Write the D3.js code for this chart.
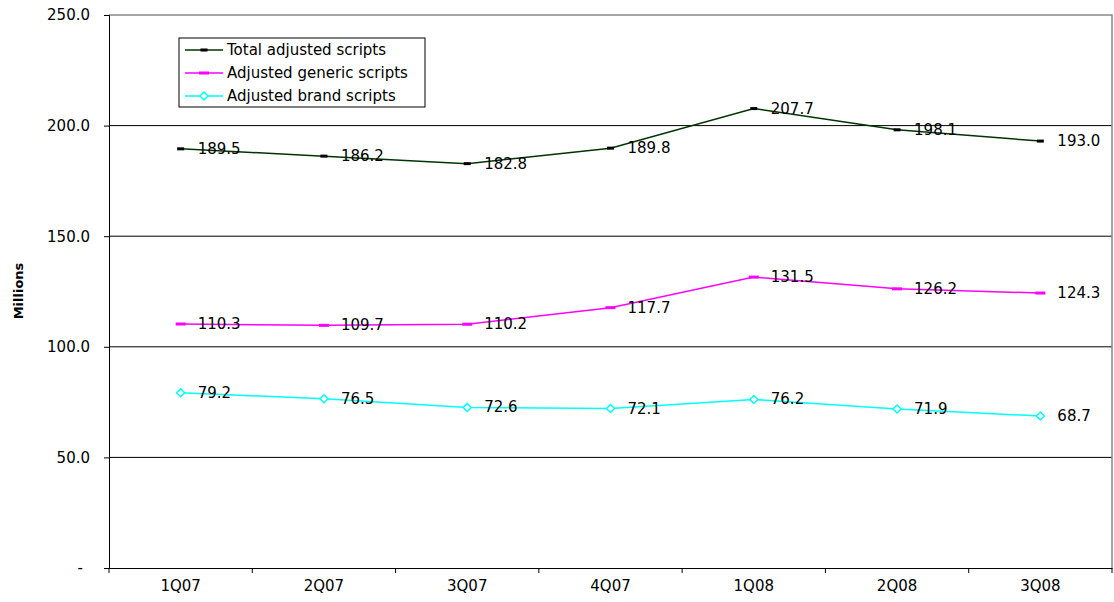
<!DOCTYPE html>
<html>
<head>
<meta charset="utf-8">
<script src="https://cdn.jsdelivr.net/npm/d3@7"></script>
<style>
  body { margin: 0; background: #fff; }
  text { font-family: "DejaVu Sans", Arial, sans-serif; }
</style>
</head>
<body>
<svg id="chart" width="1114" height="602"></svg>
<script>
// data
var quarters = ["1Q07", "2Q07", "3Q07", "4Q07", "1Q08", "2Q08", "3Q08"];
var totalScripts = [189.5, 186.2, 182.8, 189.8, 207.7, 198.1, 193.0];
var genericScripts = [110.3, 109.7, 110.2, 117.7, 131.5, 126.2, 124.3];
var brandScripts = [79.2, 76.5, 72.6, 72.1, 76.2, 71.9, 68.7];
var yTicks = [0, 50, 100, 150, 200, 250];

var series = [
  {name: "Total adjusted scripts", values: totalScripts, color: "#003300", marker: "dash"},
  {name: "Adjusted generic scripts", values: genericScripts, color: "#ff00ff", marker: "bar"},
  {name: "Adjusted brand scripts", values: brandScripts, color: "#00ffff", marker: "diamond"}
];

var svg = d3.select("#chart");
// plot edges (note: "top" is taken by window.top)
var plotLeft = 109, plotRight = 1112, plotTop = 15, plotBottom = 568;

var x = d3.scaleBand().domain(quarters).range([plotLeft, plotRight]);
var y = d3.scaleLinear().domain([0, 250]).range([plotBottom, plotTop]);

// gridlines
svg.append("g").selectAll("line")
  .data(yTicks.filter(function(d){ return d > 0 && d < 250; }))
  .enter().append("line")
  .attr("x1", plotLeft).attr("x2", plotRight)
  .attr("y1", function(d){ return y(d); }).attr("y2", function(d){ return y(d); })
  .style("stroke", "#000").style("stroke-width", 1);

// top/right border in grey
svg.append("path")
  .attr("d", "M" + plotLeft + "," + y(250) + "H" + plotRight + "V" + plotBottom)
  .style("fill", "none").style("stroke", "#888").style("stroke-width", 1.5);

// y axis
var yAxis = d3.axisLeft(y).tickValues(yTicks).tickSize(5).tickPadding(14)
  .tickFormat(function(d){ return d === 0 ? "-" : d3.format(".1f")(d); });
var gy = svg.append("g").attr("transform", "translate(" + plotLeft + ",0)").call(yAxis);
gy.select(".domain").style("stroke", "#000");
gy.selectAll("text").style("font-size", "15px").style("fill", "#000");
gy.selectAll("line").style("stroke", "#000");
// the zero label sits further left, like the spreadsheet format
gy.selectAll(".tick").filter(function(d){ return d === 0; }).select("text").attr("x", -26);

// x axis with ticks at band edges
var gx = svg.append("g").attr("transform", "translate(0," + plotBottom + ")")
  .call(d3.axisBottom(x).tickSize(0).tickPadding(12));
gx.select(".domain").style("stroke", "#000");
gx.selectAll("text").style("font-size", "15px").style("fill", "#000");
gx.selectAll(".edge").data(quarters.concat([""])).enter().append("line")
  .attr("class", "edge")
  .attr("x1", function(d, i){ return plotLeft + i * x.step(); })
  .attr("x2", function(d, i){ return plotLeft + i * x.step(); })
  .attr("y1", 0).attr("y2", 5)
  .style("stroke", "#000");

// y title
svg.append("text")
  .attr("transform", "translate(23,291) rotate(-90)")
  .attr("text-anchor", "middle")
  .style("font-size", "13px").style("font-weight", "bold")
  .text("Millions");

function drawMarker(g, kind, color) {
  if (kind === "dash") {
    g.append("rect").attr("x", -3.5).attr("y", -1.5).attr("width", 7).attr("height", 3).style("fill", "#000");
  } else if (kind === "bar") {
    g.append("rect").attr("x", -5).attr("y", -1.5).attr("width", 10).attr("height", 3).style("fill", color);
  } else {
    g.append("path").attr("d", "M0,-4L4,0L0,4L-4,0Z")
      .style("fill", "#fff").style("stroke", color).style("stroke-width", 1.5);
  }
}

var line = d3.line()
  .x(function(d, i){ return x(quarters[i]) + x.bandwidth() / 2; })
  .y(function(d){ return y(d); });

series.forEach(function(s){
  var g = svg.append("g");
  g.append("path").datum(s.values).attr("d", line)
    .style("fill", "none").style("stroke", s.color).style("stroke-width", 1.5);
  s.values.forEach(function(v, i){
    var cx = x(quarters[i]) + x.bandwidth() / 2;
    var m = g.append("g").attr("transform", "translate(" + cx + "," + y(v) + ")");
    drawMarker(m, s.marker, s.color);
    g.append("text")
      .attr("x", cx + 17).attr("y", y(v) + 5)
      .style("font-size", "15px").style("fill", "#000")
      .text(d3.format(".1f")(v));
  });
});

// legend
var lg = svg.append("g").attr("transform", "translate(179,38)");
lg.append("rect").attr("width", 246).attr("height", 69)
  .style("fill", "#fff").style("stroke", "#000").style("stroke-width", 1);
series.forEach(function(s, i){
  var yy = 12 + i * 23;
  lg.append("line").attr("x1", 6).attr("x2", 44).attr("y1", yy).attr("y2", yy)
    .style("stroke", s.color).style("stroke-width", 1.5);
  drawMarker(lg.append("g").attr("transform", "translate(25," + yy + ")"), s.marker, s.color);
  lg.append("text").attr("x", 48).attr("y", yy + 5)
    .style("font-size", "15px").style("fill", "#000").text(s.name);
});
</script>
</body>
</html>
